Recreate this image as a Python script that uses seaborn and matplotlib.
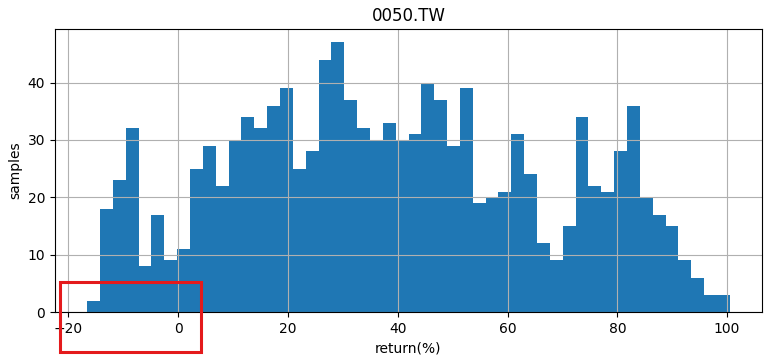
import numpy as np
import pandas as pd
import matplotlib
matplotlib.use("Agg")
import matplotlib.pyplot as plt
import seaborn as sns
from matplotlib.patches import Rectangle

# histogram of returns for 0050.TW, 50 bins
ticker = "0050.TW"
bin_lo = -16.6
bin_hi = 100.5
counts = [2, 18, 23, 32, 8, 17, 9, 11, 25, 29,
          22, 30, 34, 32, 36, 39, 25, 28, 44, 47,
          37, 32, 30, 33, 30, 31, 40, 37, 29, 39,
          19, 20, 21, 31, 24, 12, 9, 15, 34, 22,
          21, 28, 36, 20, 17, 15, 9, 6, 3, 3]

edges = np.linspace(bin_lo, bin_hi, len(counts) + 1)
df = pd.DataFrame({"ret": (edges[:-1] + edges[1:]) / 2, "n": counts})

fig = plt.figure(figsize=(7.8, 3.6), dpi=100)
ax = fig.add_axes([55 / 780, 1 - 312 / 360, 707 / 780, 283 / 360])

sns.histplot(data=df, x="ret", weights="n", bins=edges.tolist(), ax=ax,
             color="#1f77b4", alpha=1, linewidth=0)
ax.grid(True)
ax.set_title(ticker)
ax.set_xlabel("return(%)")
ax.set_ylabel("samples")
ax.set_yticks([0, 10, 20, 30, 40])

# red highlight box
fig.patches.append(Rectangle((60 / 780, 8 / 360), 141 / 780, 70 / 360,
                             transform=fig.transFigure, fill=False,
                             edgecolor="#e41a1c", linewidth=2.2, zorder=10))

fig.savefig("out.png", dpi=100)
plt.close(fig)
